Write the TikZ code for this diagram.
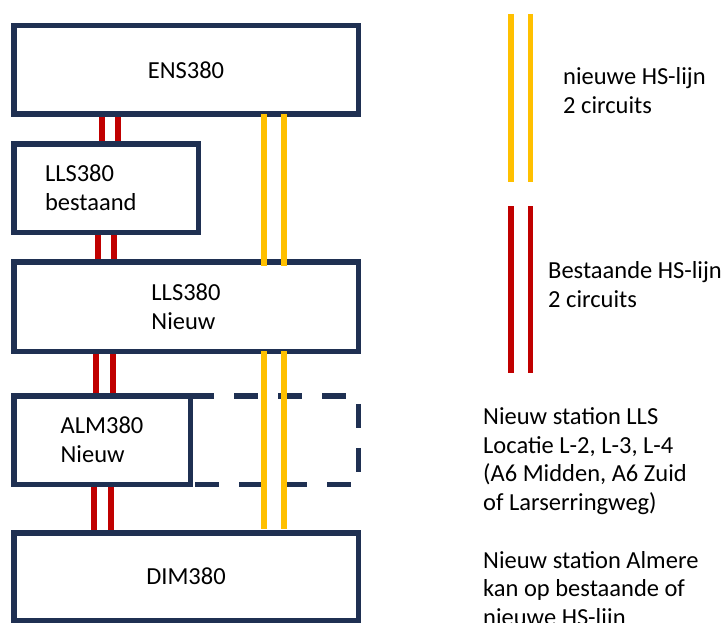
\documentclass[tikz,border=0pt]{standalone}
\usepackage{fontspec}
\setmainfont{Carlito}
\usepackage{tikz}
\usetikzlibrary{backgrounds}
\definecolor{cBox}{RGB}{31,48,82}
\definecolor{cNew}{RGB}{255,192,0}
\definecolor{cOld}{RGB}{192,0,0}

\begin{document}
\begin{tikzpicture}[x=1pt, y=-1pt,
  station/.style={draw=cBox, line width=5.5pt, inner sep=0pt, outer sep=0pt, align=left,
    font=\fontsize{24.5}{29}\selectfont},
  option/.style={draw=cBox, line width=5.5pt, dash pattern=on 24pt off 20pt},
  newline/.style={draw=cNew, line width=5.5pt},
  oldline/.style={draw=cOld, line width=5.5pt},
  legend/.style={anchor=base west, inner sep=0pt, align=left,
    font=\fontsize{24.5}{28.5}\selectfont}
]
  \useasboundingbox (0,0) rectangle (725,623);

  % stations
  \node[station, minimum width=344.5pt, minimum height=88.5pt] (ens) at (186,70) {ENS380};
  \node[station, minimum width=184.5pt, minimum height=88.5pt,
    text width=122pt, inner xsep=31.25pt] (llsold) at (106,188) {LLS380\\bestaand};
  \node[station, minimum width=344.5pt, minimum height=89.5pt] (llsnew) at (186,306.5) {LLS380\\Nieuw};
  \node[station, minimum width=176.5pt, minimum height=88.5pt] (alm) at (102,440) {ALM380\\Nieuw};
  \node[station, minimum width=344.5pt, minimum height=87.5pt] (dim) at (186,576.5) {DIM380};

  % possible location ALM380
  \draw[option] (alm.north east) -- (alm.north east -| llsnew.east)
    -- (alm.south east -| llsnew.east) -- (alm.south east);

  % existing line, 2 circuits
  \begin{scope}[on background layer]
    \foreach \a/\b/\xa/\xb in {ens/llsold/102/118, llsold/llsnew/98/114,
                               llsnew/alm/96/113, alm/dim/94/111} {
      \draw[oldline] (\a.south -| \xa,0) -- (\b.north -| \xa,0);
      \draw[oldline] (\a.south -| \xb,0) -- (\b.north -| \xb,0);
    }
  \end{scope}

  % new line, 2 circuits
  \foreach \x in {264,284} {
    \draw[newline, shorten >=-4pt] (ens.south -| \x,0) -- (llsnew.north -| \x,0);
    \draw[newline, shorten >=4pt] (llsnew.south -| \x,0) -- (dim.north -| \x,0);
  }

  % legend
  \coordinate (newtop) at (511,14);
  \coordinate (newbot) at (511,182);
  \coordinate (oldtop) at (511,206);
  \coordinate (oldbot) at (511,373);
  \draw[newline] (newtop) -- (newbot);
  \draw[newline] ([xshift=19.5pt]newtop) -- ([xshift=19.5pt]newbot);
  \draw[oldline] (oldtop) -- (oldbot);
  \draw[oldline] ([xshift=19.5pt]oldtop) -- ([xshift=19.5pt]oldbot);

  % base = last line
  \node[legend] (newtext) at (563,113.3) {nieuwe HS-lijn\\2 circuits};
  \node[legend] (oldtext) at (548,307.3) {Bestaande HS-lijn\\2 circuits};
  \node[legend] (llsnote) at (483,510) {Nieuw station LLS\\Locatie L-2, L-3, L-4\\(A6 Midden, A6 Zuid\\of Larserringweg)};
  \node[legend] (almnote) at (483,625.3) {Nieuw station Almere\\kan op bestaande of\\nieuwe HS-lijn};
\end{tikzpicture}
\end{document}
